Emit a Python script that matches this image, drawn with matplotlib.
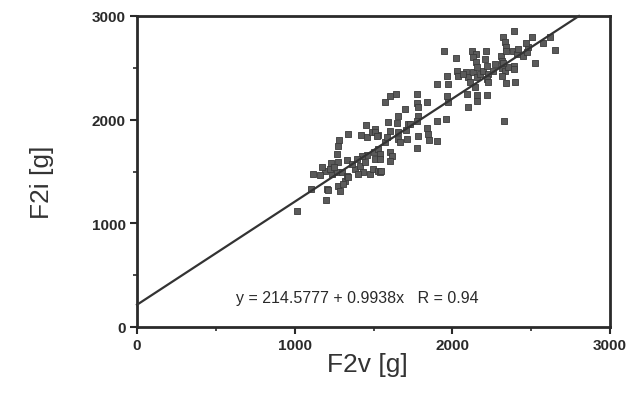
import matplotlib
matplotlib.use("Agg")
import matplotlib.pyplot as plt
from matplotlib.ticker import MultipleLocator
import numpy as np

# Data (F2v, F2i in grams)
f2v = [1015, 1104, 1116, 1199, 1205, 1192, 1230, 1237, 1268, 1275, 1275, 1287,
       1268, 1275, 1281, 1300, 1319, 1332, 1306, 1211, 1173, 1224, 1249, 1161,
       1338, 1421, 1459, 1490, 1509, 1528, 1452, 1332, 1383, 1414, 1433, 1459,
       1427, 1503, 1478, 1497, 1528, 1338, 1364, 1395, 1446, 1509, 1541, 1402,
       1528, 1541, 1541, 1547, 1605, 1617, 1605, 1509, 1522, 1573, 1586, 1605,
       1592, 1649, 1573, 1605, 1643, 1655, 1655, 1655, 1668, 1706, 1719, 1700,
       1713,
       1776, 1776, 1782, 1839, 1782, 1776, 1903, 1960, 1782, 1839, 1846, 1852,
       1903, 1776, 1731, 1947, 1967, 1973, 1903, 1967, 1973, 2023,
       2029, 2036, 2087, 2099, 2112, 2131, 2156, 2175, 2125, 2150, 2131, 2213,
       2207, 2150, 2156, 2194, 2220, 2226, 2220, 2226, 2093, 2156, 2156, 2220,
       2099, 2144, 2068,
       2308, 2315, 2321, 2334, 2340, 2340, 2391, 2385, 2410, 2416, 2448, 2473,
       2480, 2467, 2505, 2575, 2619, 2651, 2524, 2315, 2334, 2353, 2321, 2391,
       2391, 2315, 2340, 2397, 2328, 2258, 2270]

f2i = [1119, 1331, 1476, 1225, 1331, 1505, 1582, 1476, 1495, 1592, 1360, 1312,
       1669, 1746, 1804, 1495, 1408, 1457, 1379, 1321, 1543, 1524, 1543, 1466,
       1862, 1852, 1833, 1881, 1910, 1852, 1948, 1611, 1524, 1553, 1495, 1659,
       1649, 1688, 1476, 1524, 1505, 1447, 1572, 1621, 1592, 1621, 1495, 1476,
       1717, 1669, 1621, 1505, 1688, 1649, 1601, 1881, 1842, 1785, 1833, 1891,
       1977, 1968, 2170, 2228, 2248, 2035, 1881, 1813, 1785, 1900, 1958, 2103,
       1813,
       2248, 2161, 2122, 2170, 2035, 1987, 1987, 2006, 1842, 1920, 1862, 1804,
       1794, 1727, 1958, 2662, 2421, 2344, 2344, 2228, 2170, 2595,
       2469, 2421, 2460, 2412, 2363, 2460, 2412, 2440, 2662, 2633, 2604, 2662,
       2585, 2556, 2508, 2469, 2518, 2440, 2392, 2363, 2248, 2238, 2180, 2238,
       2122, 2315, 2440,
       2614, 2566, 2797, 2749, 2701, 2662, 2855, 2662, 2633, 2682, 2614, 2653,
       2701, 2740, 2797, 2740, 2797, 2672, 2547, 2498, 2469, 2508, 2546, 2518,
       2489, 2421, 2354, 2363, 1987, 2469, 2537]

intercept = 214.5777
slope = 0.9938
r_value = 0.94

x_ticks = [0, 1000, 2000, 3000]
y_ticks = [0, 1000, 2000, 3000]

plt.rcParams['font.family'] = ['Liberation Sans', 'DejaVu Sans']

fig = plt.figure(figsize=(6.26, 4.06), dpi=100)
ax = fig.add_axes([137/626, 1 - 328/406, (610 - 137)/626, (328 - 17)/406])

ink = '#2a2a2a'
ax.scatter(f2v, f2i, marker='s', s=16, facecolor='#5a5a5a', edgecolor='#3a3a3a',
           linewidths=0.6, zorder=3)

xl = np.array([0, (3000 - intercept) / slope])
ax.plot(xl, intercept + slope * xl, color='#333333', lw=1.6, zorder=4, clip_on=False)

ax.set_xlim(0, 3000)
ax.set_ylim(0, 3000)
ax.set_xticks(x_ticks)
ax.set_yticks(y_ticks)
ax.xaxis.set_minor_locator(MultipleLocator(500))
ax.yaxis.set_minor_locator(MultipleLocator(500))
ax.tick_params(which='major', direction='out', length=5, width=1.5, color=ink,
               labelsize=11, labelcolor=ink, pad=3)
ax.tick_params(which='minor', direction='out', length=3, width=1.2, color=ink)
for lab in ax.get_xticklabels() + ax.get_yticklabels():
    lab.set_fontweight('bold')
for s in ax.spines.values():
    s.set_linewidth(2)
    s.set_color(ink)

ax.text(0.465, 0.095,
        f"y = {intercept} + {slope}x   R = {r_value}",
        transform=ax.transAxes, ha='center', va='center', fontsize=11.5, color=ink)

fig.text(367/626, 1 - 365/406, 'F2v [g]', ha='center', va='center', fontsize=19,
         color='#333333')
fig.text(42/626, 1 - 182/406, 'F2i [g]', ha='center', va='center', fontsize=19,
         rotation=90, color='#333333')

fig.savefig('out.png', dpi=100)
